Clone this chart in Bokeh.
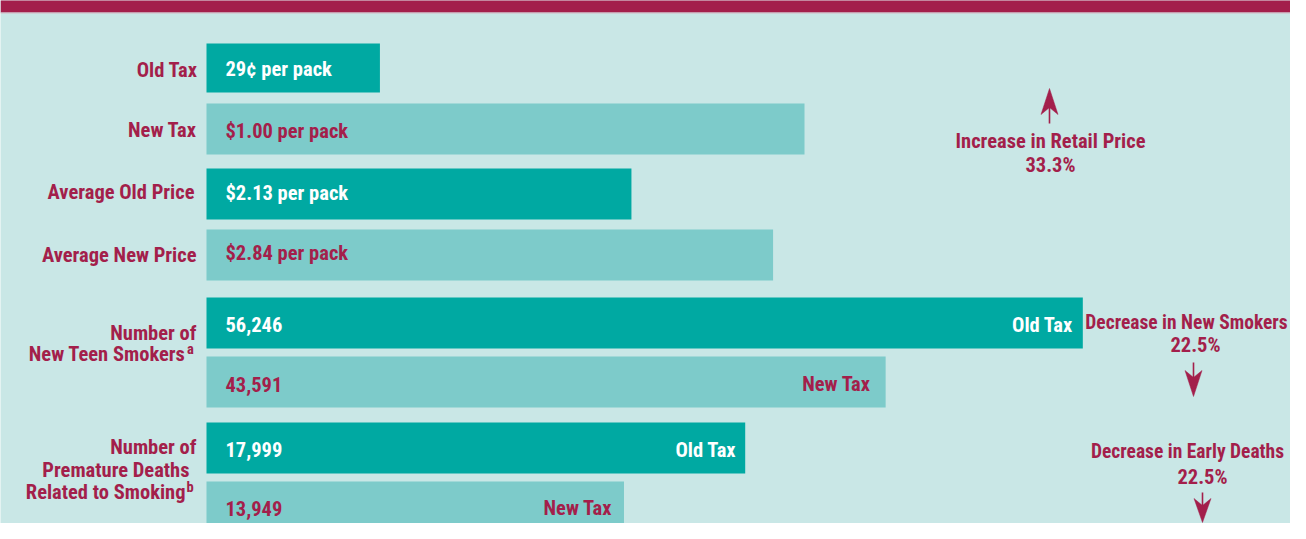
from bokeh.plotting import figure
from bokeh.models import Range1d, ColumnDataSource
from bokeh.embed import file_html
from bokeh.resources import INLINE
from bokeh.core.properties import value

# ---------------- data ----------------
tax_labels = ["Old Tax", "New Tax"]
tax_values = [0.29, 1.00]
tax_texts = ["29¢ per pack", "$1.00 per pack"]

price_labels = ["Average Old Price", "Average New Price"]
price_values = [2.13, 2.84]
price_texts = ["$2.13 per pack", "$2.84 per pack"]

teen_values = [56246, 43591]
teen_texts = ["56,246", "43,591"]
death_values = [17999, 13949]
death_texts = ["17,999", "13,949"]
series_names = ["Old Tax", "New Tax"]

teen_label = ["Number of", "New Teen Smokers"]
death_label = ["Number of", "Premature Deaths", "Related to Smoking"]
footnotes = ["a", "b"]

changes = [("Increase in Retail Price", "33.3%"),
           ("Decrease in New Smokers", "22.5%"),
           ("Decrease in Early Deaths", "22.5%")]

# ---------------- style ----------------
W, H = 1290, 523
BG = "#c9e7e6"
DARK = "#00a9a2"
LIGHT = "#7dcbca"
MAROON = "#a31f4b"
FONT = value("Roboto Condensed")
FS = "20.5px"
FS_R = "19.5px"   # right-edge headers (kept inside the frame)
X0 = 206          # bar start (px)
DY_TEEN = -3      # slight vertical squeeze so everything fits
DY_DEATH = -8

p = figure(width=W, height=H, x_range=Range1d(0, W), y_range=Range1d(H, 0),
           output_backend="svg", toolbar_location=None, min_border=0,
           x_axis_location=None, y_axis_location=None,
           background_fill_color=BG, border_fill_color=BG, outline_line_color=None)
p.grid.visible = False

# per-group scales (px per unit)
scales = {"tax": 598.0, "price": 199.5, "teen": 0.01558, "death": 0.02993}
for name, s in scales.items():
    p.extra_x_ranges[name] = Range1d(-X0 / s, (W - X0) / s)

# top band
p.quad(left=0, right=W, top=-2, bottom=12, fill_color=MAROON, line_color=None)
p.quad(left=0, right=W, top=12, bottom=13, fill_color="#d6b8c4", line_color=None)

colors = [DARK, LIGHT]
text_cols = ["white", MAROON]

groups = [
    ("tax", tax_values, tax_texts, [67.5, 128.5], [49, 51], [68.5, 130], None),
    ("price", price_values, price_texts, [193.5, 254.5], [51, 51], [192, 252], None),
    ("teen", teen_values, teen_texts, [325.5 + DY_TEEN, 384.5 + DY_TEEN], [51, 51],
     [327 + DY_TEEN, 386.5 + DY_TEEN], [-10, -15]),
    ("death", death_values, death_texts, [455.5 + DY_DEATH, 514.5 + DY_DEATH], [51, 51],
     [457 + DY_DEATH, 515.5 + DY_DEATH], [-9, -12]),
]

for name, vals, texts, ys, hs, tys, offs in groups:
    src = ColumnDataSource(dict(y=ys, ty=tys, right=vals, left=[0, 0], h=hs, color=colors,
                                text=texts, tcol=text_cols, names=series_names,
                                off=offs if offs else [0, 0]))
    p.hbar(y="y", left="left", right="right", height="h", fill_color="color",
           line_color=None, source=src, x_range_name=name)
    p.text(x="left", y="ty", text="text", x_offset=19, text_color="tcol",
           text_font=FONT, text_font_style="bold", text_font_size=FS,
           text_align="left", text_baseline="middle", source=src, x_range_name=name)
    if offs:
        p.text(x="right", y="ty", text="names", x_offset="off", text_color="tcol",
               text_font=FONT, text_font_style="bold", text_font_size=FS,
               text_align="right", text_baseline="middle", source=src, x_range_name=name)

# left labels
left_src = ColumnDataSource(dict(
    x=[197, 196, 194, 196],
    y=[69, 129.5, 191, 254],
    text=tax_labels + price_labels))
p.text(x="x", y="y", text="text", source=left_src, text_color=MAROON,
       text_font=FONT, text_font_style="bold", text_font_size=FS,
       text_align="right", text_baseline="middle")

multi_src = ColumnDataSource(dict(
    x=[196, 185, 196, 189, 185],
    y=[335.5 + DY_TEEN, 356.5 + DY_TEEN,
       454.5 + DY_DEATH, 477.5 + DY_DEATH, 499 + DY_DEATH],
    text=teen_label + death_label))
p.text(x="x", y="y", text="text", source=multi_src, text_color=MAROON,
       text_font=FONT, text_font_style="bold", text_font_size=FS,
       text_align="right", text_baseline="middle")
# superscripts
p.text(x=[186.5, 186], y=[352 + DY_TEEN, 495 + DY_DEATH], text=footnotes, text_color=MAROON,
       text_font=FONT, text_font_style="bold", text_font_size="14.5px",
       text_align="left", text_baseline="middle")

# right annotations
p.text(x=[1050], y=[140], text=[changes[0][0]], text_color=MAROON,
       text_font=FONT, text_font_style="bold", text_font_size=FS,
       text_align="center", text_baseline="middle")
p.text(x=[1186, 1187], y=[325 + DY_TEEN, 459 + DY_DEATH],
       text=[c[0] for c in changes[1:]], text_color=MAROON,
       text_font=FONT, text_font_style="bold", text_font_size=FS_R,
       text_align="center", text_baseline="middle")
p.text(x=[1050, 1195, 1202], y=[164.5, 347.5 + DY_TEEN, 484 + DY_DEATH],
       text=[c[1] for c in changes], text_color=MAROON,
       text_font=FONT, text_font_style="bold", text_font_size=FS,
       text_align="center", text_baseline="middle")


def arrow(xc, y_tail, y_tip, head_len=26, head_w=17, notch=7):
    d = 1 if y_tip > y_tail else -1
    wing = y_tip - d * head_len
    nt = wing + d * notch
    p.segment(x0=[xc], y0=[y_tail], x1=[xc], y1=[nt + d * 1], line_color=MAROON, line_width=1.6)
    xs = [xc, xc + head_w / 2, xc, xc - head_w / 2]
    ys = [y_tip, wing, nt, wing]
    p.patch(xs, ys, fill_color=MAROON, line_color=MAROON, line_width=0.5)


arrow(1049, 123, 88)
arrow(1193, 365 + DY_TEEN, 399 + DY_TEEN)
arrow(1202, 500 + DY_DEATH, 530 + DY_DEATH, head_len=24)

open("out.html", "w").write(file_html(p, INLINE))
